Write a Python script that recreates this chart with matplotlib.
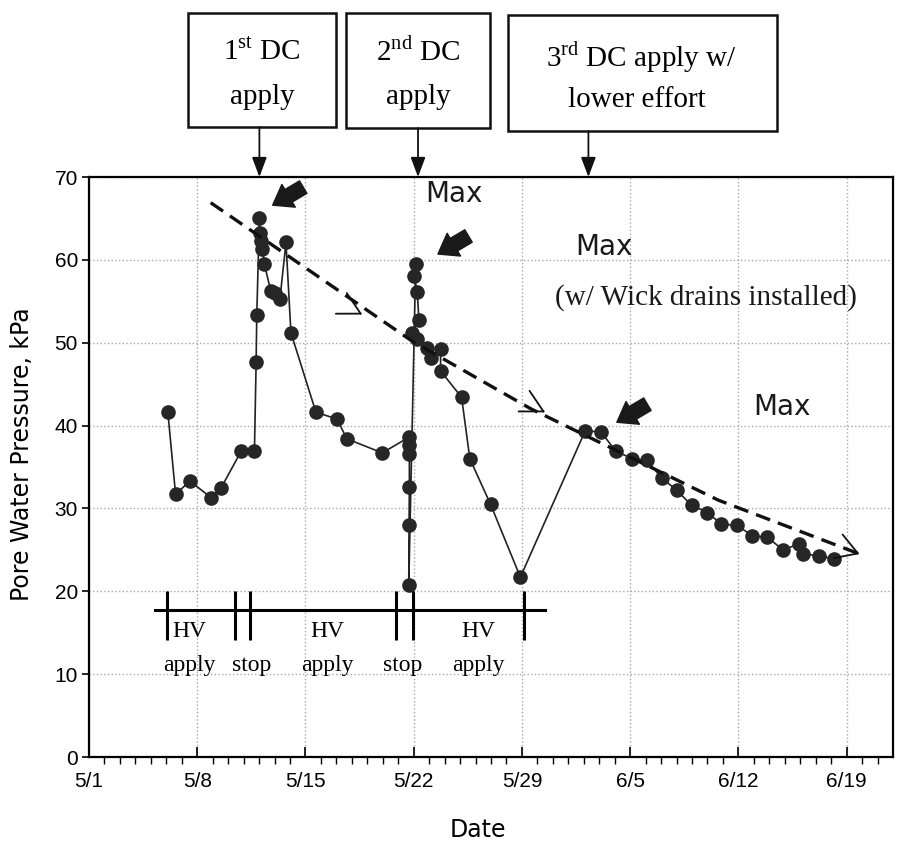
import matplotlib
matplotlib.use('Agg')
import matplotlib.pyplot as plt
import matplotlib.transforms as mtransforms
from matplotlib.patches import Rectangle

plt.rcParams['mathtext.fontset'] = 'custom'
plt.rcParams['mathtext.rm'] = 'Liberation Serif'

# days counted from 5/1 (day 0)
days = [5.10, 5.60, 6.52, 7.90, 8.55, 9.84, 10.70, 10.81, 10.85, 11.02,
        11.05, 11.13, 11.22, 11.34, 11.75, 12.05, 12.35, 12.74, 13.06, 14.68,
        16.03, 16.68, 18.97, 20.70, 20.72, 20.72, 20.72, 20.70, 20.68, 21.13,
        21.02, 21.23, 21.34, 20.91, 21.23, 21.88, 22.10, 22.74, 22.74, 24.10,
        24.63, 25.97, 27.90, 32.10, 33.13, 34.07, 35.15, 36.07, 37.04, 38.00,
        38.97, 40.00, 40.90, 41.92, 42.90, 43.88, 44.89, 45.90, 46.18, 47.20,
        48.18]
pwp = [41.6, 31.7, 33.3, 31.3, 32.5, 36.9, 36.9, 47.7, 53.3, 65.0,
       63.3, 62.3, 61.3, 59.5, 56.3, 56.0, 55.3, 62.1, 51.2, 41.6,
       40.8, 38.4, 36.7, 38.6, 37.7, 36.6, 32.6, 28.0, 20.7, 59.5,
       58.1, 56.1, 52.7, 51.2, 50.4, 49.4, 48.2, 49.2, 46.6, 43.4,
       36.0, 30.5, 21.7, 39.4, 39.2, 36.9, 36.0, 35.8, 33.7, 32.2,
       30.4, 29.5, 28.1, 27.95, 26.7, 26.5, 25.0, 25.7, 24.5, 24.3,
       23.9]

# dashed "Max" envelope
trend_days = [7.87, 20.89, 28.6, 40.7, 49.84]
trend_vals = [66.9, 50.2, 42.0, 31.0, 24.5]
chevron_tips = [(17.68, 53.4), (29.5, 41.6)]

# HV apply / stop schedule
hv_level = 17.8
hv_span = [4.25, 29.5]
hv_ticks = [5.04, 9.45, 10.44, 19.84, 20.95, 28.12]
hv_label_days = [6.5, 10.5, 15.4, 20.3, 25.2]
hv_top = ['HV', '', 'HV', '', 'HV']
hv_bottom = ['apply', 'stop', 'apply', 'stop', 'apply']

# DC events
dc_days = [11.02, 21.28, 32.3]
dc_text = [('1$^{\\mathrm{st}}$ DC', 'apply'),
           ('2$^{\\mathrm{nd}}$ DC', 'apply'),
           ('3$^{\\mathrm{rd}}$ DC apply w/', 'lower effort')]
pointer_tips = [(11.88, 66.6), (22.57, 60.7), (34.14, 40.4)]

max_labels = [(23.6, 67.9), (33.3, 61.6), (44.8, 42.3)]

tick_pos = [0, 7, 14, 21, 28, 35, 42, 49]
tick_lab = ['5/1', '5/8', '5/15', '5/22', '5/29', '6/5', '6/12', '6/19']

W, H = 897, 847
def fx(x):
    return x / W
def fy(y):
    return 1 - y / H

fig = plt.figure(figsize=(8.97, 8.47), dpi=100)
ax = fig.add_axes([fx(89), fy(757), fx(893) - fx(89), fy(177) - fy(757)])

ax.plot(days, pwp, '-o', color='#222222', lw=1.2, ms=9.5,
        mfc='#262626', mec='#262626', zorder=3)
ax.plot(trend_days, trend_vals, '--', color='#111111', lw=2.4,
        dashes=(4.5, 2.5), zorder=4)

ax.set_xlim(0, 52)
ax.set_ylim(0, 70)
ax.set_xticks(tick_pos)
ax.set_xticklabels(tick_lab)
ax.set_xticks(range(0, 52), minor=True)
ax.set_yticks(range(0, 71, 10))
ax.grid(True, which='major', ls=':', color='#a8a8a8', lw=1.0)
ax.set_axisbelow(True)
ax.tick_params(axis='x', which='major', direction='in', length=7, width=1.2,
               pad=11, labelsize=15)
ax.tick_params(axis='x', which='minor', direction='out', length=5, width=1.0)
ax.tick_params(axis='y', direction='out', length=5, width=1.2, pad=3,
               labelsize=15)
for lab in ax.get_xticklabels() + ax.get_yticklabels():
    lab.set_family('Liberation Sans')
for s in ax.spines.values():
    s.set_linewidth(1.6)

# chevrons along the dashed line
for tip in chevron_tips:
    ax.annotate('', xy=tip, xytext=(-1.77, 0.94), textcoords='offset points',
                arrowprops=dict(arrowstyle='->,head_length=1.05,head_width=0.56',
                                lw=1.3, color='#111111', mutation_scale=15,
                                shrinkA=0, shrinkB=0))
ax.annotate('', xy=(trend_days[-1], trend_vals[-1]), xytext=(-1.88, 0.68),
            textcoords='offset points',
            arrowprops=dict(arrowstyle='->,head_length=1.0,head_width=0.6',
                            lw=1.3, color='#111111', mutation_scale=15,
                            shrinkA=0, shrinkB=0))

# thick pointers to the maxima
for tip in pointer_tips:
    ax.annotate('', xy=tip, xytext=(22, 13), textcoords='offset points',
                annotation_clip=False,
                arrowprops=dict(arrowstyle='simple,head_length=0.7,head_width=1.0,tail_width=0.55',
                                color='#1a1a1a', mutation_scale=19,
                                shrinkA=0, shrinkB=0))

for (d, v) in max_labels:
    ax.text(d, v, 'Max', fontsize=20, ha='center', va='center',
            family='DejaVu Sans', color='#1a1a1a')
ax.text(39.9, 55.4, '(w/ Wick drains installed)', fontsize=21,
        ha='center', va='center', family='Liberation Serif', color='#1a1a1a')

# HV schedule bar
ax.plot(hv_span, [hv_level, hv_level], color='k', lw=2.2, zorder=3)
ax.vlines(hv_ticks, 14.1, 20.0, color='k', lw=2.2, zorder=3)
for d, t, b in zip(hv_label_days, hv_top, hv_bottom):
    if t:
        ax.text(d, 15.1, t, fontsize=17, ha='center', va='center',
                family='Liberation Serif')
    ax.text(d, 11.1, b, fontsize=17, ha='center', va='center',
            family='Liberation Serif')

# DC boxes and arrows
boxes = [(188, 13, 336, 127), (346, 13, 490, 128), (508, 15, 777, 131)]
text_rows = [(262, 52, 262, 97), (418, 52, 418, 97), (641, 57, 637, 100)]
trans = mtransforms.blended_transform_factory(ax.transData, fig.transFigure)
for (x0, y0, x1, y1), (tx1, ty1, tx2, ty2), (l1, l2), d in zip(boxes, text_rows, dc_text, dc_days):
    fig.add_artist(Rectangle((fx(x0), fy(y1)), fx(x1) - fx(x0), fy(y0) - fy(y1),
                             transform=fig.transFigure, fill=False, lw=1.8,
                             ec='#111111'))
    fig.text(fx(tx1), fy(ty1), l1, fontsize=21, ha='center', va='center',
             family='Liberation Serif')
    fig.text(fx(tx2), fy(ty2), l2, fontsize=21, ha='center', va='center',
             family='Liberation Serif')
    ax.annotate('', xy=(d, 70), xycoords='data', xytext=(d, fy(y1)),
                textcoords=trans, annotation_clip=False,
                arrowprops=dict(arrowstyle='-|>,head_length=0.8,head_width=0.3',
                                color='#111111', lw=1.3, mutation_scale=15,
                                shrinkA=0, shrinkB=0))

fig.text(fx(22), fy(454), 'Pore Water Pressure, kPa', rotation=90,
         fontsize=17, ha='center', va='center', family='DejaVu Sans')
fig.text(fx(478), fy(830), 'Date', fontsize=17, ha='center', va='center',
         family='DejaVu Sans')

fig.savefig('out.png', dpi=100, facecolor='white')
